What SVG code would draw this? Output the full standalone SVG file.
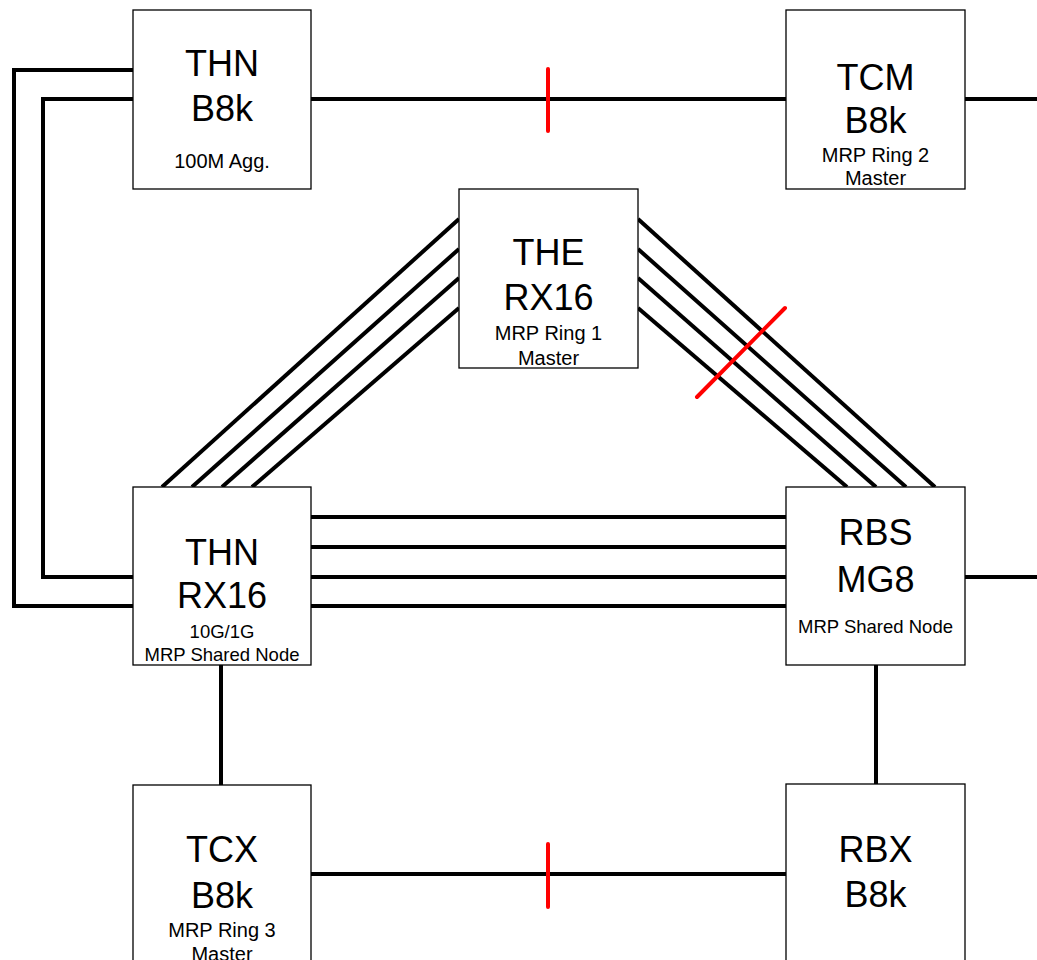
<svg xmlns="http://www.w3.org/2000/svg" width="1037" height="960" viewBox="0 0 1037 960">
<style>
.box{fill:#fff;stroke:#000;stroke-width:1.3}
.ln{stroke:#000;stroke-width:4;fill:none}
.rd{stroke:#f00;stroke-width:4;stroke-linecap:round;fill:none}
.big{font-family:"Liberation Sans",Arial,sans-serif;font-size:36px;text-anchor:middle;fill:#000}
.sm{font-family:"Liberation Sans",Arial,sans-serif;font-size:20px;text-anchor:middle;fill:#000}
.sm2{font-family:"Liberation Sans",Arial,sans-serif;font-size:18.5px;text-anchor:middle;fill:#000}
</style>
<rect width="1037" height="960" fill="#fff"/>
<g id="connectors">
<polyline class="ln" points="133,70 14,70 14,606 133,606"/>
<polyline class="ln" points="133,99 43,99 43,577 133,577"/>
<line class="ln" x1="311" y1="99" x2="786" y2="99"/>
<line class="ln" x1="965" y1="99" x2="1037" y2="99"/>
<line class="ln" x1="459" y1="219" x2="162" y2="487"/>
<line class="ln" x1="459" y1="249" x2="192" y2="487"/>
<line class="ln" x1="459" y1="278" x2="222" y2="487"/>
<line class="ln" x1="459" y1="308" x2="252" y2="487"/>
<line class="ln" x1="638" y1="219" x2="935" y2="487"/>
<line class="ln" x1="638" y1="249" x2="906" y2="487"/>
<line class="ln" x1="638" y1="278" x2="876" y2="487"/>
<line class="ln" x1="638" y1="308" x2="847" y2="487"/>
<line class="ln" x1="311" y1="517" x2="786" y2="517"/>
<line class="ln" x1="311" y1="547" x2="786" y2="547"/>
<line class="ln" x1="311" y1="577" x2="786" y2="577"/>
<line class="ln" x1="311" y1="606" x2="786" y2="606"/>
<line class="ln" x1="965" y1="577" x2="1037" y2="577"/>
<line class="ln" x1="221" y1="665" x2="221" y2="785"/>
<line class="ln" x1="876" y1="665" x2="876" y2="784"/>
<line class="ln" x1="311" y1="874" x2="786" y2="874"/>
<line class="rd" x1="548" y1="69" x2="548" y2="131"/>
<line class="rd" x1="548" y1="844" x2="548" y2="907"/>
<line class="rd" x1="697" y1="397" x2="785" y2="308"/>
</g>
<g id="thn-b8k">
<rect class="box" x="133" y="10" width="178" height="179"/>
<text class="big" x="222" y="76">THN</text>
<text class="big" x="222" y="121">B8k</text>
<text class="sm" x="222" y="168">100M Agg.</text>
</g>
<g id="tcm-b8k">
<rect class="box" x="786" y="10" width="179" height="179"/>
<text class="big" x="875.5" y="90">TCM</text>
<text class="big" x="875.5" y="133">B8k</text>
<text class="sm" x="875.5" y="162">MRP Ring 2</text>
<text class="sm" x="875.5" y="185">Master</text>
</g>
<g id="the-rx16">
<rect class="box" x="459" y="189" width="179" height="179"/>
<text class="big" x="548.5" y="265">THE</text>
<text class="big" x="548.5" y="310">RX16</text>
<text class="sm" x="548.5" y="340">MRP Ring 1</text>
<text class="sm" x="548.5" y="365">Master</text>
</g>
<g id="thn-rx16">
<rect class="box" x="133" y="487" width="178" height="178"/>
<text class="big" x="222" y="565">THN</text>
<text class="big" x="222" y="608">RX16</text>
<text class="sm2" x="222" y="638">10G/1G</text>
<text class="sm2" x="222" y="661">MRP Shared Node</text>
</g>
<g id="rbs-mg8">
<rect class="box" x="786" y="487" width="179" height="178"/>
<text class="big" x="875.5" y="545">RBS</text>
<text class="big" x="875.5" y="592">MG8</text>
<text class="sm2" x="875.5" y="633">MRP Shared Node</text>
</g>
<g id="tcx-b8k">
<rect class="box" x="133" y="785" width="178" height="190"/>
<text class="big" x="222" y="862">TCX</text>
<text class="big" x="222" y="908">B8k</text>
<text class="sm" x="222" y="937">MRP Ring 3</text>
<text class="sm" x="222" y="961">Master</text>
</g>
<g id="rbx-b8k">
<rect class="box" x="786" y="784" width="179" height="190"/>
<text class="big" x="875.5" y="862">RBX</text>
<text class="big" x="875.5" y="907">B8k</text>
</g>
</svg>
